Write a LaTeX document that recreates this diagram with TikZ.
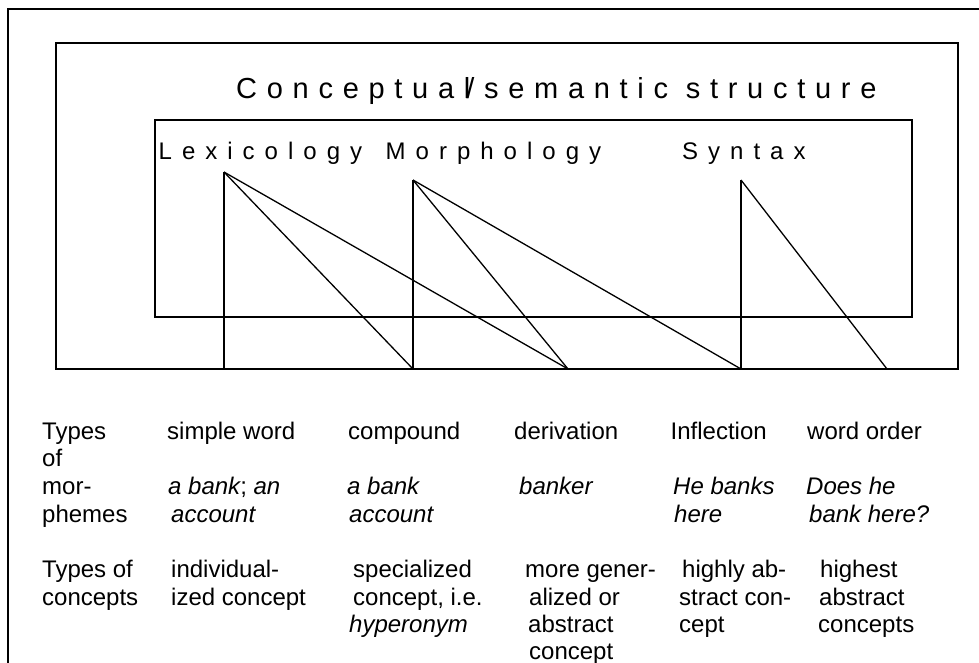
\documentclass[tikz,border=0pt]{standalone}
\usepackage{fontspec}
\setmainfont{Liberation Sans}
% letter-spaced faces for the headings
\newfontfamily\titlefont{Liberation Sans}[LetterSpace=33.5]
\newfontfamily\fieldfont{Liberation Sans}[LetterSpace=41.7]

\begin{document}
\begin{tikzpicture}[x=1pt,y=-1pt,
  frame/.style={line width=2pt},
  link/.style={line width=1.3pt},
  heading/.style={anchor=base west, inner sep=0pt, font=\titlefont\fontsize{29}{33}\selectfont},
  field/.style={anchor=base west, inner sep=0pt, font=\fieldfont\fontsize{24}{27.7}\selectfont},
  cell/.style={anchor=base west, inner sep=0pt, font=\fontsize{24}{27.7}\selectfont},
  example/.style={cell, font=\fontsize{24}{27.7}\selectfont\itshape}]

\useasboundingbox (0,0) rectangle (979,663);

% outer frame, open to the right and bottom
\draw[frame] (979,9) -- (8,9) -- (8,663);
% boxes
\draw[frame] (56,43) rectangle (958,369);
\draw[frame] (155,120) rectangle (912,317);

% headings
\node[heading] (title) at (236,99) {Conceptual\kern-4pt/semantic structure};
\node[field] (lexicology) at (158.5,160) {Lexicology};
\node[field] (morphology) at (385.5,160) {Morphology};
\node[field] (syntax) at (682,160) {Syntax};

% apexes and feet of the fans
\coordinate (lex) at (224,172);
\coordinate (mor) at (413,180);
\coordinate (syn) at (741,180);
\coordinate (b1) at (224,369);
\coordinate (b2) at (413,369);
\coordinate (b3) at (568,369);
\coordinate (b4) at (741,369);
\coordinate (b5) at (887,369);

\draw[link] (lex) -- (b1);
\draw[link] (lex) -- (b2);
\draw[link] (lex) -- (b3);
\draw[link] (mor) -- (b2);
\draw[link] (mor) -- (b3);
\draw[link] (mor) -- (b4);
\draw[link] (syn) -- (b4);
\draw[link] (syn) -- (b5);

% table: row labels
\node[cell] (r1a) at (42,439) {Types};
\node[cell] (r1b) at (42,466.7) {of};
\node[cell] (r1c) at (42,494.4) {mor-};
\node[cell] (r1d) at (42,522.1) {phemes};
\node[cell] (r2a) at (42,577.5) {Types of};
\node[cell] (r2b) at (42,605.2) {concepts};

% simple word
\node[cell] (c1h) at (167,439) {simple word};
\node[example] (c1e1) at (168,494.4) {a bank\upshape; \itshape an};
\node[example] (c1e2) at (171,522.1) {account};
\node[cell] (c1c1) at (171,577.5) {individual-};
\node[cell] (c1c2) at (171,605.2) {ized concept};

% compound
\node[cell] (c2h) at (348,439) {compound};
\node[example] (c2e1) at (347,494.4) {a bank};
\node[example] (c2e2) at (349,522.1) {account};
\node[cell] (c2c1) at (353,577.5) {specialized};
\node[cell] (c2c2) at (353,605.2) {concept, i.e.};
\node[example] (c2c3) at (349,632.9) {hyperonym};

% derivation
\node[cell] (c3h) at (514,439) {derivation};
\node[example] (c3e1) at (519,494.4) {banker};
\node[cell] (c3c1) at (525,577.5) {more gener-};
\node[cell] (c3c2) at (529,605.2) {alized or};
\node[cell] (c3c3) at (528,632.9) {abstract};
\node[cell] (c3c4) at (529,659.5) {concept};

% inflection
\node[cell] (c4h) at (670.5,439) {Inflection};
\node[example] (c4e1) at (673,494.4) {He banks};
\node[example] (c4e2) at (674,522.1) {here};
\node[cell] (c4c1) at (682,577.5) {highly ab-};
\node[cell] (c4c2) at (679,605.2) {stract con-};
\node[cell] (c4c3) at (679,632.9) {cept};

% word order
\node[cell] (c5h) at (807,439) {word order};
\node[example] (c5e1) at (806,494.4) {Does he};
\node[example] (c5e2) at (809,522.1) {bank here?};
\node[cell] (c5c1) at (820,577.5) {highest};
\node[cell] (c5c2) at (819,605.2) {abstract};
\node[cell] (c5c3) at (818,632.9) {concepts};
\end{tikzpicture}
\end{document}
